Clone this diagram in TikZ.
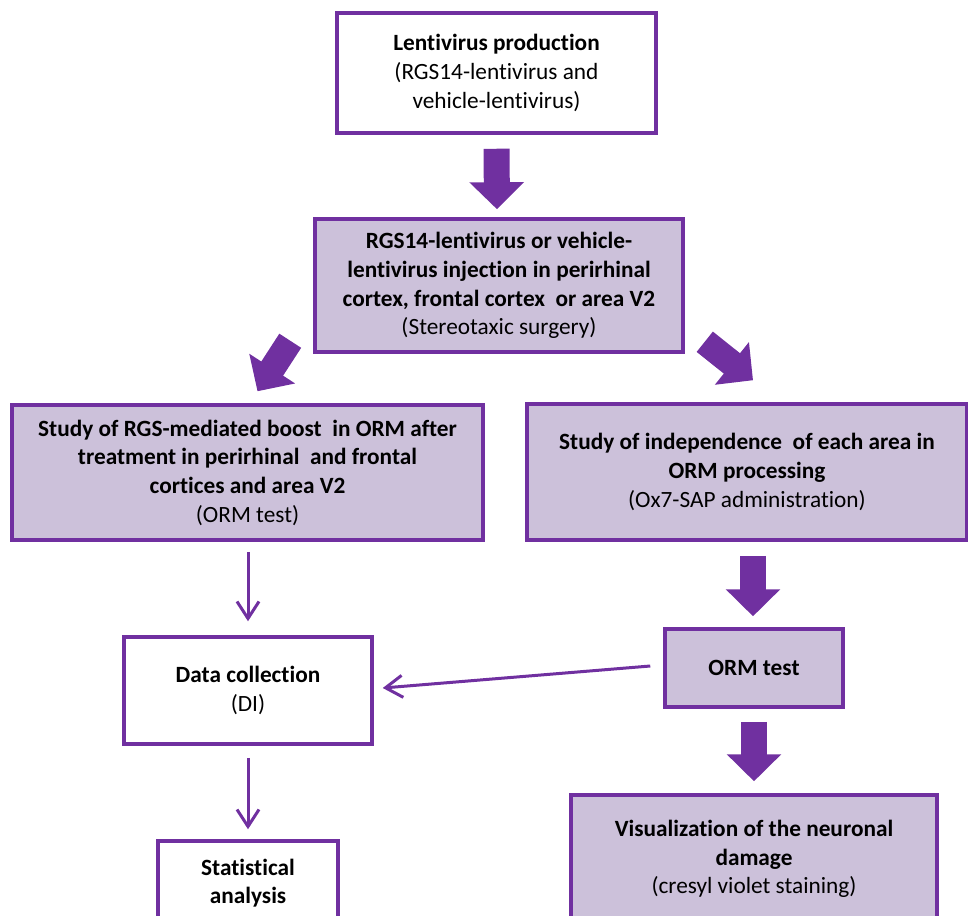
\documentclass[tikz,border=0pt]{standalone}
\usepackage{fontspec}
\setmainfont{Carlito}[Ligatures={NoCommon}]
\usetikzlibrary{arrows.meta,calc}
\definecolor{flowpurple}{HTML}{7030A0}
\definecolor{flowlilac}{HTML}{CCC1DA}

\begin{document}
\begin{tikzpicture}[x=1pt, y=-1pt, line join=miter,
  plainbox/.style={draw=flowpurple, line width=3.5pt, fill=white, align=center,
    inner sep=0pt, font=\fontsize{23.3}{28.7}\selectfont},
  shadedbox/.style={plainbox, fill=flowlilac},
  fatarrow/.style={draw=flowpurple, line width=26pt, -{Triangle[width=53pt,length=27pt]}},
  thinarrow/.style={draw=flowpurple, line width=3pt, -{Straight Barb[length=17pt,width=22pt]}}]

  %% ════ canvas ════
  \clip (0,0) rectangle (968,915);

  %% ════ boxes ════
  \node[plainbox, minimum width=319pt, minimum height=120pt] (prod) at (496.5,73)
    {\textbf{Lentivirus production}\\(RGS14-lentivirus and\\vehicle-lentivirus)};
  \node[shadedbox, minimum width=368pt, minimum height=133pt] (inject) at (499,285.5)
    {\textbf{RGS14-lentivirus or vehicle-}\\\textbf{lentivirus injection in perirhinal}\\
     \textbf{cortex, frontal cortex\ \ or area V2}\\(Stereotaxic surgery)};
  \node[shadedbox, minimum width=471pt, minimum height=135pt] (boost) at (247.5,472.5)
    {\textbf{Study of RGS-mediated boost\ \ in ORM after}\\\textbf{treatment in perirhinal\ \ and frontal}\\
     \textbf{cortices and area V2}\\(ORM test)};
  \node[shadedbox, minimum width=440pt, minimum height=136pt] (indep) at (747,472)
    {\textbf{Study of independence\ \ of each area in}\\\textbf{ORM processing}\\(Ox7-SAP administration)};
  \node[plainbox, minimum width=248pt, minimum height=107pt] (data) at (248,690.5)
    {\textbf{Data collection}\\(DI)};
  \node[shadedbox, minimum width=178pt, minimum height=78pt] (orm) at (754,668)
    {\textbf{ORM test}};
  \node[plainbox, minimum width=180pt, minimum height=84pt] (stats) at (248,883)
    {\textbf{Statistical}\\\textbf{analysis}};
  \node[shadedbox, minimum width=366pt, minimum height=128pt] (damage) at (754,859)
    {\textbf{Visualization of the neuronal}\\\textbf{damage}\\(cresyl violet staining)};

  %% ════ fat arrows ════
  \draw[fatarrow] ($(prod.south)+(0,14)$) -- ($(inject.north)+(-2,-8)$);
  \draw[fatarrow] ($(inject.south west)+(-23,-13)$) -- ($(boost.north)+(10,-12)$);
  \draw[fatarrow] ($(inject.south east)+(20,-12)$) -- ($(indep.north)+(6,-22)$);
  \draw[fatarrow] ($(indep.south)+(6,14)$) -- ($(orm.north)+(-1,-11)$);
  \draw[fatarrow] ($(orm.south)+(0,13)$) -- ($(damage.north)+(0,-12)$);

  %% ════ thin arrows ════
  \draw[thinarrow] ($(boost.south)+(0.5,10)$) -- ($(data.north)+(0,-14)$);
  \draw[thinarrow] ($(data.south)+(0,12)$) -- ($(stats.north)+(0,-10)$);
  \draw[thinarrow] ($(orm.west)+(-13,-2)$) -- ($(data.east)+(9,-2.5)$);
\end{tikzpicture}
\end{document}
